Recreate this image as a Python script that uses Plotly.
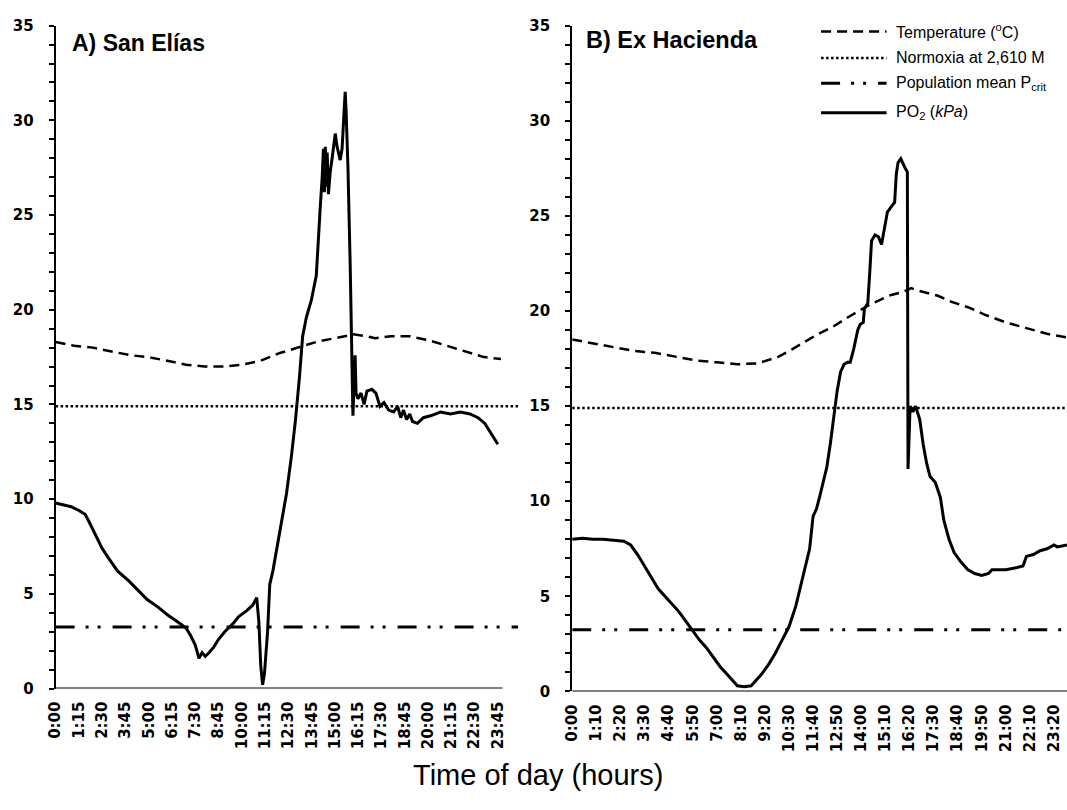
import plotly.graph_objects as go

# ---------------- data ----------------
# Panel A: San Elías (time in minutes since midnight)
sanelias_po2_min = [0, 25, 50, 75, 95, 105, 120, 135, 150, 170, 200, 235, 265, 295, 330, 360, 395,
                    420, 435, 450, 462, 472, 482, 495, 510, 525, 545, 570, 590, 615, 635, 648, 655,
                    661, 667, 673, 683, 690, 700, 712, 728, 744, 760, 773, 786, 796, 808, 824, 840,
                    847, 853, 859, 863, 866, 869, 872, 875, 879, 885, 891, 901, 907, 917, 923, 930,
                    933, 936, 942, 949, 955, 958, 965, 968, 974, 984, 994, 1003, 1019, 1032, 1045,
                    1058, 1073, 1089, 1102, 1112, 1121, 1131, 1141, 1150, 1166, 1185, 1208, 1240,
                    1272, 1304, 1335, 1361, 1383, 1403, 1425]
sanelias_po2 = [9.8, 9.7, 9.6, 9.4, 9.2, 8.9, 8.4, 7.9, 7.4, 6.9, 6.2, 5.7, 5.2, 4.7, 4.3, 3.9, 3.5,
                3.2, 2.8, 2.3, 1.6, 1.9, 1.7, 1.9, 2.2, 2.6, 3.0, 3.4, 3.8, 4.1, 4.4, 4.8, 3.5,
                1.2, 0.2, 0.8, 3.0, 5.5, 6.2, 7.3, 8.8, 10.3, 12.3, 14.2, 16.5, 18.6, 19.6, 20.5, 21.8,
                23.5, 25.5, 27.0, 28.5, 26.2, 28.6, 26.5, 28.3, 26.1, 27.3, 28.0, 29.3, 28.6, 27.9, 28.5, 31.0,
                31.5, 30.5, 27.5, 22.5, 16.5, 14.4, 17.6, 15.6, 15.3, 15.6, 15.0, 15.7, 15.8, 15.6, 14.9,
                15.1, 14.7, 14.6, 14.9, 14.3, 14.7, 14.2, 14.5, 14.1, 14.0, 14.3, 14.4, 14.6,
                14.5, 14.6, 14.5, 14.3, 14.0, 13.5, 12.9]
sanelias_temp_min = [0, 60, 120, 180, 240, 300, 360, 420, 480, 540, 600, 660, 720, 780, 840, 900,
                     960, 1000, 1030, 1080, 1140, 1200, 1260, 1320, 1380, 1435]
sanelias_temp = [18.3, 18.1, 18.0, 17.8, 17.6, 17.5, 17.3, 17.1, 17.0, 17.0, 17.1, 17.3, 17.7, 18.0,
                 18.3, 18.5, 18.7, 18.6, 18.5, 18.6, 18.6, 18.4, 18.1, 17.8, 17.5, 17.4]

# Panel B: Ex Hacienda
exhacienda_po2_min = [0, 30, 60, 90, 120, 150, 170, 190, 210, 230, 250, 280, 310, 330, 350, 370, 390,
                      410, 430, 450, 470, 480, 500, 520, 530, 550, 570, 590, 610, 630, 650, 670, 690,
                      700, 710, 720, 730, 740, 750, 760, 770, 780, 790, 800, 808, 818, 830, 837, 846,
                      849, 859, 865, 870, 880, 890, 899, 909, 916, 928, 937, 942, 947, 955, 962, 968,
                      974, 976, 982, 990, 998, 1010, 1020, 1030, 1040, 1055, 1070, 1080, 1095, 1110,
                      1130, 1150, 1170, 1190, 1210, 1220, 1240, 1260, 1290, 1310, 1320, 1340, 1360,
                      1380, 1400, 1410, 1438]
exhacienda_po2 = [8.0, 8.05, 8.0, 8.0, 7.95, 7.9, 7.7, 7.2, 6.6, 6.0, 5.4, 4.8, 4.2, 3.7, 3.2, 2.7, 2.3,
                  1.8, 1.3, 0.9, 0.5, 0.3, 0.25, 0.3, 0.5, 0.9, 1.4, 2.0, 2.7, 3.4, 4.5, 6.0, 7.5,
                  9.2, 9.6, 10.3, 11.0, 11.8, 13.0, 14.5, 15.8, 16.8, 17.2, 17.3, 17.3, 18.0, 19.0, 19.3, 19.4,
                  20.1, 20.4, 22.1, 23.7, 24.0, 23.9, 23.5, 24.5, 25.2, 25.5, 25.7, 27.2, 27.8, 28.0, 27.7, 27.5,
                  27.3, 11.7, 15.0, 14.7, 15.0, 14.3, 13.0, 12.0, 11.3, 11.0, 10.2, 9.0, 8.0, 7.3,
                  6.8, 6.4, 6.2, 6.1, 6.2, 6.4, 6.4, 6.4, 6.5, 6.6, 7.1, 7.2, 7.4,
                  7.5, 7.7, 7.6, 7.7]
exhacienda_temp_min = [0, 60, 120, 180, 240, 300, 360, 420, 480, 540, 600, 640, 706, 760, 804, 862,
                       919, 960, 985, 1000, 1063, 1100, 1150, 1200, 1260, 1320, 1380, 1440]
exhacienda_temp = [18.5, 18.3, 18.1, 17.9, 17.8, 17.6, 17.4, 17.3, 17.2, 17.25, 17.6, 18.0, 18.7,
                   19.2, 19.7, 20.3, 20.8, 21.0, 21.2, 21.1, 20.8, 20.5, 20.2, 19.8, 19.4, 19.1,
                   18.8, 18.6]

# Reference levels (kPa)
normoxia_kpa = 14.9
pcrit_kpa = 3.25
sanelias_ref_span = [0, 1490]
exhacienda_ref_span = [0, 1470]

# Tick labels
sanelias_label_min = list(range(0, 1426, 75))
exhacienda_label_min = list(range(0, 1401, 70))
tick_mark_min = list(range(0, 1401, 50))


def hhmm(m):
    return f"{m // 60}:{m % 60:02d}"


# ---------------- styles ----------------
BLACK = "#000000"
TICK_FONT = dict(family="DejaVu Sans", size=15, color=BLACK, weight="bold")
TEXT_FONT = "Liberation Sans, Arial, sans-serif"

W, H = 1067, 810
def px_x(p):
    return p / W
def px_y(p):
    return 1 - p / H

temp_line = dict(color=BLACK, width=2.5, dash="10px,6px")
norm_line = dict(color=BLACK, width=2.5, dash="2.5px,2.5px")
pcrit_line = dict(color=BLACK, width=3, dash="19px,11px,3px,9px,3px,12px")
po2_line = dict(color=BLACK, width=3)

fig = go.Figure()

panels = [
    ("x", "y", sanelias_po2_min, sanelias_po2, sanelias_temp_min, sanelias_temp, sanelias_ref_span),
    ("x2", "y2", exhacienda_po2_min, exhacienda_po2, exhacienda_temp_min, exhacienda_temp, exhacienda_ref_span),
]
for xa, ya, pm, pv, tm, tv, span in panels:
    fig.add_trace(go.Scatter(x=span, y=[pcrit_kpa] * 2, mode="lines", line=pcrit_line,
                             xaxis=xa, yaxis=ya, showlegend=False, hoverinfo="skip"))
    fig.add_trace(go.Scatter(x=span, y=[normoxia_kpa] * 2, mode="lines", line=norm_line,
                             xaxis=xa, yaxis=ya, showlegend=False, hoverinfo="skip"))
    fig.add_trace(go.Scatter(x=tm, y=tv, mode="lines", line=temp_line,
                             xaxis=xa, yaxis=ya, showlegend=False))
    fig.add_trace(go.Scatter(x=pm, y=pv, mode="lines", line=po2_line,
                             xaxis=xa, yaxis=ya, showlegend=False))

left_range = [0, 1492]
right_range = [0, 1438]
left_dom = [px_x(47), px_x(514)]
right_dom = [px_x(568), 1.0]

yaxis_common = dict(range=[0, 35], dtick=5, tick0=0, ticks="outside", ticklen=5, tickwidth=2,
                    tickcolor=BLACK, showline=True, linewidth=2, linecolor=BLACK,
                    showgrid=False, zeroline=False, tickfont=TICK_FONT, ticklabelstandoff=12,
                    minor=dict(dtick=1, ticks="outside", ticklen=5, tickwidth=2, tickcolor=BLACK,
                               showgrid=False),
                    fixedrange=True)

label_axis_common = dict(tickmode="array", ticks="", tickangle=-90, tickfont=TICK_FONT,
                         showline=False, showgrid=False, zeroline=False, ticklabelstandoff=9,
                         fixedrange=True)
mark_axis_common = dict(tickmode="array", tickvals=tick_mark_min, ticks="outside", ticklen=6,
                        tickwidth=2, tickcolor=BLACK, showticklabels=False, showline=False,
                        showgrid=False, zeroline=False, fixedrange=True)

fig.update_layout(
    width=W, height=H,
    margin=dict(l=0, r=0, t=0, b=0),
    paper_bgcolor="white", plot_bgcolor="white",
    showlegend=False,
    xaxis=dict(domain=left_dom, range=left_range, anchor="y",
               tickvals=sanelias_label_min, ticktext=[hhmm(m) for m in sanelias_label_min],
               **label_axis_common),
    xaxis2=dict(domain=right_dom, range=right_range, anchor="y2",
                tickvals=exhacienda_label_min, ticktext=[hhmm(m) for m in exhacienda_label_min],
                **label_axis_common),
    xaxis3=dict(overlaying="x", anchor="y", range=left_range, **mark_axis_common),
    xaxis4=dict(overlaying="x2", anchor="y2", range=right_range, **mark_axis_common),
    yaxis=dict(domain=[px_y(695), px_y(17)], anchor="x", **yaxis_common),
    yaxis2=dict(domain=[px_y(698), px_y(17)], anchor="x2", **yaxis_common),
)

# x axis baselines (left one stops at 24:00, right one runs to the edge)
fig.add_shape(type="line", xref="x", yref="y", x0=0, x1=1440, y0=0, y1=0,
              line=dict(color=BLACK, width=2))
fig.add_shape(type="line", xref="x2", yref="y2", x0=0, x1=right_range[1], y0=0, y1=0,
              line=dict(color=BLACK, width=2))

# Panel titles
fig.add_annotation(text="<b>A) San Elías</b>", xref="paper", yref="paper",
                   x=px_x(62), y=px_y(35), xanchor="left", yanchor="middle", showarrow=False,
                   font=dict(family=TEXT_FONT, size=23, color=BLACK))
fig.add_annotation(text="<b>B) Ex Hacienda</b>", xref="paper", yref="paper",
                   x=px_x(580), y=px_y(32), xanchor="left", yanchor="middle", showarrow=False,
                   font=dict(family=TEXT_FONT, size=23.5, color=BLACK))

# Shared x axis title
fig.add_annotation(text="Time of day (hours)", xref="paper", yref="paper",
                   x=px_x(534), y=px_y(783), xanchor="center", yanchor="middle", showarrow=False,
                   font=dict(family=TEXT_FONT, size=29, color=BLACK))

# Key
key_rows = [
    ("Temperature (<sup>o</sup>C)", temp_line, 23),
    ("Normoxia at 2,610 M", norm_line, 50),
    ("Population mean P<sub>crit</sub>", pcrit_line, 76),
    ("PO<sub>2</sub> (<i>kPa</i>)", po2_line, 106),
]
for label, style, ypx in key_rows:
    fig.add_shape(type="line", xref="paper", yref="paper",
                  x0=px_x(819), x1=px_x(885), y0=px_y(ypx), y1=px_y(ypx), line=style)
    fig.add_annotation(text=label, xref="paper", yref="paper", x=px_x(893), y=px_y(ypx),
                       xanchor="left", yanchor="middle", showarrow=False,
                       font=dict(family=TEXT_FONT, size=16, color=BLACK))

fig.write_html("out.html")
